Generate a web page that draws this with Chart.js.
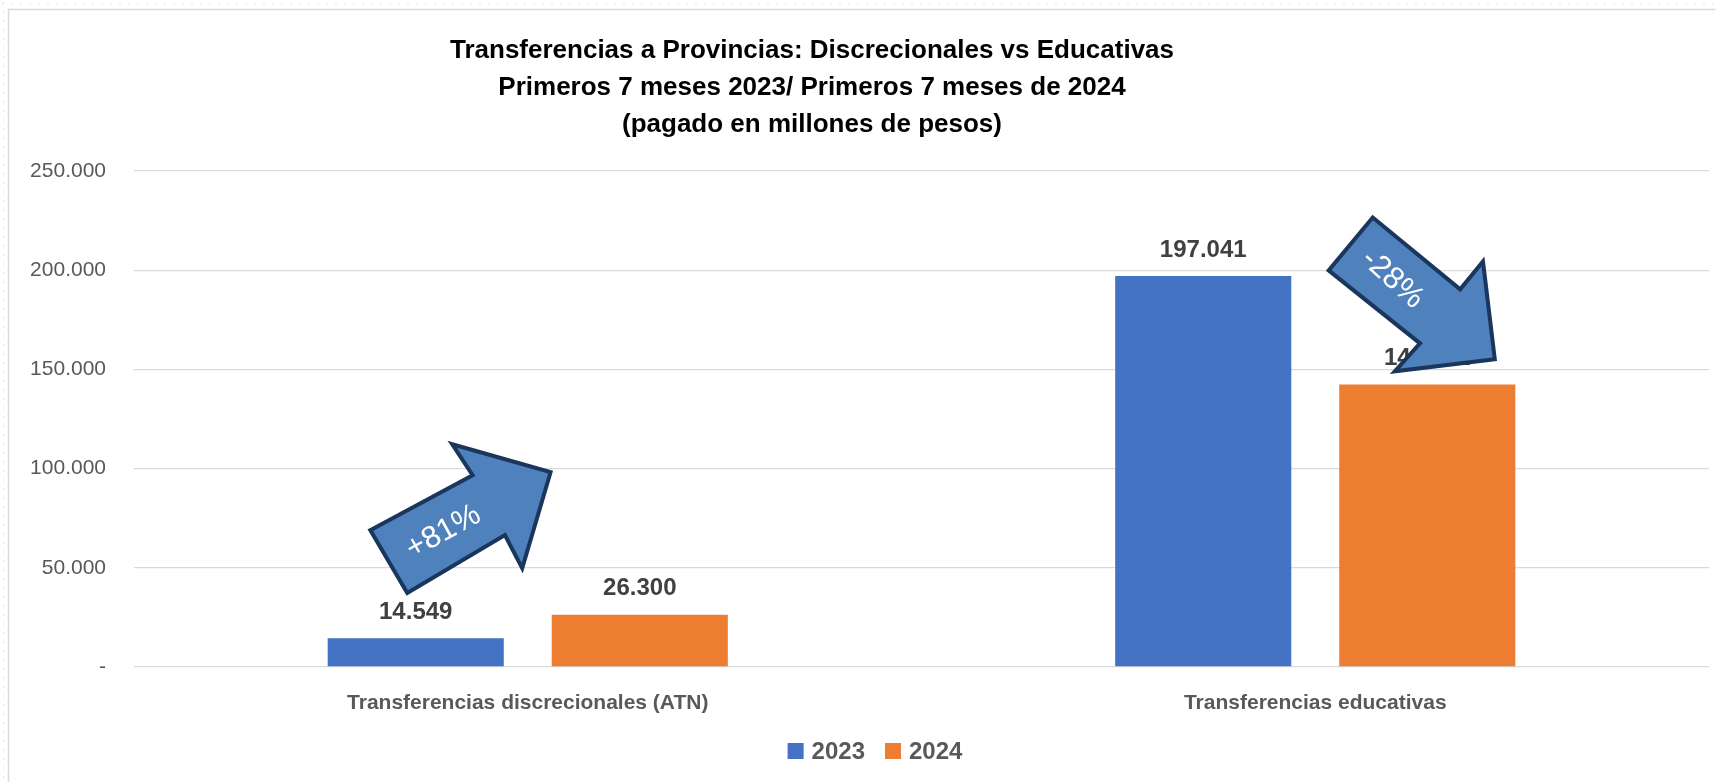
<!DOCTYPE html>
<html lang="es">
<head>
<meta charset="UTF-8">
<title>Transferencias a Provincias</title>
<script src="https://cdn.jsdelivr.net/npm/chart.js"></script>
<style>
    html, body {
        margin: 0;
        padding: 0;
        background: #ffffff;
    }
    #wrap {
        width: 1721px;
        height: 782px;
    }
</style>
</head>
<body>
<div id="wrap">
    <canvas id="chart" width="1721" height="782"></canvas>
</div>

<script>
    // Data
    const categories = ['Transferencias discrecionales (ATN)', 'Transferencias educativas'];
    const seriesNames = ['2023', '2024'];
    const values2023 = [14549, 197041];
    const values2024 = [26300, 142441];
    const yTickValues = [0, 50000, 100000, 150000, 200000, 250000];
    const titleLines = [
        'Transferencias a Provincias: Discrecionales vs Educativas',
        'Primeros 7 meses 2023/ Primeros 7 meses de 2024',
        '(pagado en millones de pesos)'
    ];
    const arrowLabels = ['+81%', '-28%'];

    const FONT = "'Liberation Sans', Arial, sans-serif";

    // thousands separator with a dot, zero shown as a dash
    function fmt(v) {
        if (v === 0) return '-';
        return String(Math.round(v)).replace(/\B(?=(\d{3})+(?!\d))/g, '.');
    }

    // Arrow shapes, in data units (x = category index, y = value)
    const arrowShapes = [
        {
            pts: [[-0.200, 68983], [-0.070, 96677], [-0.096, 112286], [0.029, 98187],
                  [-0.007, 49849], [-0.029, 66465], [-0.153, 37261]],
            text: [-0.107, 67976], angle: -29
        },
        {
            pts: [[1.073, 226586], [1.184, 190332], [1.213, 204431], [1.228, 155086],
                  [1.101, 149043], [1.133, 163142], [1.017, 199899]],
            text: [1.098, 195500], angle: 42
        }
    ];

    const framePlugin = {
        id: 'frame',
        beforeDraw(chart) {
            const c = chart.ctx;
            c.save();
            c.fillStyle = '#ffffff';
            c.fillRect(0, 0, chart.width, chart.height);
            // sheet gridline dots around the chart
            c.fillStyle = '#e4e4e4';
            for (let x = 2; x < chart.width; x += 9) c.fillRect(x, 3, 2, 1);
            for (let y = 2; y < chart.height; y += 9) c.fillRect(3, y, 1, 2);
            c.strokeStyle = '#d9d9d9';
            c.lineWidth = 1.5;
            c.beginPath();
            c.moveTo(8.5, chart.height);
            c.lineTo(8.5, 9.5);
            c.lineTo(1715.5, 9.5);
            c.stroke();
            c.restore();
        }
    };

    const titlePlugin = {
        id: 'titleLines',
        afterDraw(chart) {
            const c = chart.ctx;
            c.save();
            c.font = 'bold 26px ' + FONT;
            c.fillStyle = '#000000';
            c.textAlign = 'center';
            c.textBaseline = 'middle';
            titleLines.forEach((t, i) => c.fillText(t, 812, 51 + i * 37));
            c.restore();
        }
    };

    // legend drawn by hand so it can sit where Excel put it
    const legendPlugin = {
        id: 'bottomLegend',
        afterDraw(chart) {
            const c = chart.ctx;
            c.save();
            c.font = 'bold 24px ' + FONT;
            c.textBaseline = 'middle';
            c.textAlign = 'left';
            const box = 16, gap = 8, spacing = 20, cy = 751;
            const widths = chart.data.datasets.map(ds => box + gap + c.measureText(ds.label).width);
            const total = widths.reduce((a, b) => a + b, 0) + spacing * (widths.length - 1);
            let x = 875 - total / 2;
            chart.data.datasets.forEach((ds, i) => {
                c.fillStyle = ds.backgroundColor;
                c.fillRect(x, cy - box / 2, box, box);
                c.fillStyle = '#595959';
                c.fillText(ds.label, x + box + gap, cy + 1);
                x += widths[i] + spacing;
            });
            c.restore();
        }
    };

    const valueLabels = {
        id: 'valueLabels',
        afterDatasetsDraw(chart) {
            const c = chart.ctx;
            c.save();
            c.font = 'bold 24px ' + FONT;
            c.fillStyle = '#404040';
            c.textAlign = 'center';
            c.textBaseline = 'middle';
            chart.data.datasets.forEach((ds, di) => {
                chart.getDatasetMeta(di).data.forEach((bar, i) => {
                    c.fillText(fmt(ds.data[i]), bar.x, bar.y - 26);
                });
            });
            c.restore();
        }
    };

    const arrowsPlugin = {
        id: 'arrows',
        afterDraw(chart) {
            const c = chart.ctx;
            const xs = chart.scales.x, ys = chart.scales.y;
            arrowShapes.forEach((a, k) => {
                c.save();
                c.beginPath();
                a.pts.forEach((p, i) => {
                    const px = xs.getPixelForValue(p[0]);
                    const py = ys.getPixelForValue(p[1]);
                    if (i === 0) c.moveTo(px, py); else c.lineTo(px, py);
                });
                c.closePath();
                c.fillStyle = '#4f81bd';
                c.fill();
                c.lineWidth = 4;
                c.lineJoin = 'miter';
                c.strokeStyle = '#1a365d';
                c.stroke();
                c.translate(xs.getPixelForValue(a.text[0]), ys.getPixelForValue(a.text[1]));
                c.rotate(a.angle * Math.PI / 180);
                c.font = '31px ' + FONT;
                c.fillStyle = '#ffffff';
                c.textAlign = 'center';
                c.textBaseline = 'middle';
                c.fillText(arrowLabels[k], 0, 0);
                c.restore();
            });
        }
    };

    new Chart(document.getElementById('chart'), {
        type: 'bar',
        data: {
            labels: categories,
            datasets: [
                {
                    label: seriesNames[0],
                    data: values2023,
                    backgroundColor: '#4472c4',
                    categoryPercentage: 0.569,
                    barPercentage: 0.786
                },
                {
                    label: seriesNames[1],
                    data: values2024,
                    backgroundColor: '#ed7d31',
                    categoryPercentage: 0.569,
                    barPercentage: 0.786
                }
            ]
        },
        options: {
            responsive: false,
            animation: false,
            layout: {
                padding: { top: 171, right: 12, bottom: 61, left: 0 }
            },
            plugins: {
                title: { display: false },
                tooltip: { enabled: false },
                legend: { display: false }
            },
            scales: {
                x: {
                    grid: { display: false },
                    border: { display: false },
                    ticks: {
                        color: '#595959',
                        padding: 16,
                        font: { family: FONT, size: 21, weight: 'bold' }
                    },
                    afterFit(scale) { scale.height = 54; }
                },
                y: {
                    min: 0,
                    max: 250000,
                    border: { display: false },
                    grid: { color: '#d9d9d9', lineWidth: 1.3, drawTicks: false },
                    afterBuildTicks(scale) {
                        scale.ticks = yTickValues.map(v => ({ value: v }));
                    },
                    ticks: {
                        color: '#595959',
                        padding: 28,
                        font: { family: FONT, size: 21 },
                        callback: v => fmt(v)
                    },
                    afterFit(scale) { scale.width = 134; }
                }
            }
        },
        plugins: [framePlugin, valueLabels, arrowsPlugin, legendPlugin, titlePlugin]
    });
</script>
</body>
</html>
